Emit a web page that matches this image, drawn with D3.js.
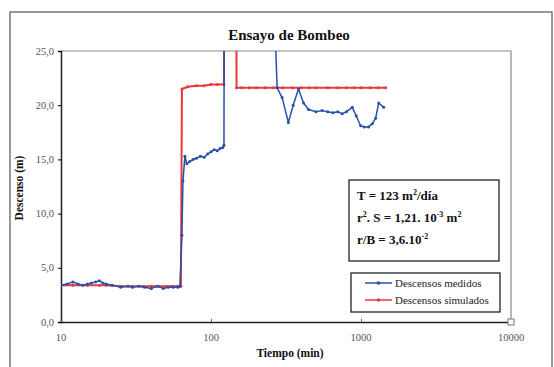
<!DOCTYPE html>
<html>
<head>
<meta charset="utf-8">
<script src="https://cdn.jsdelivr.net/npm/d3@7"></script>
</head>
<body style="margin:0">
<svg id="chart" width="554" height="367"></svg>
<script>
// Pumping test: measured vs simulated drawdown (log time axis)
const measuredTime = [10, 11, 12, 13, 14, 15, 16, 17, 18, 19, 20, 22, 25, 28, 30, 33, 36, 40, 44, 48, 52, 56, 60, 62,
  64, 65, 67, 69, 72, 76, 80, 85, 90, 95, 100, 105, 110, 115, 120, 122, 123,
  268, 269, 276, 298, 328, 353, 383, 414, 447, 500, 550, 600, 650, 700, 750, 800, 875,
  930, 994, 1050, 1124, 1190, 1252, 1312, 1417];
const measuredDrawdown = [3.4, 3.5, 3.7, 3.5, 3.4, 3.5, 3.6, 3.7, 3.8, 3.6, 3.5, 3.4, 3.2, 3.3, 3.2, 3.3, 3.2, 3.1, 3.3, 3.1, 3.2, 3.2, 3.2, 3.3,
  8.0, 13.0, 15.3, 14.6, 14.8, 15.0, 15.1, 15.3, 15.2, 15.5, 15.7, 15.9, 15.8, 16.0, 16.1, 16.3, 40,
  40, 26.0, 21.6, 20.7, 18.4, 20.0, 21.5, 20.2, 19.6, 19.4, 19.5, 19.4, 19.3, 19.4, 19.2, 19.4, 19.8,
  19.0, 18.1, 18.0, 18.0, 18.3, 18.8, 20.2, 19.8];

const simulatedTime = [10, 12, 15, 18, 20, 25, 30, 35, 40, 45, 50, 55, 60, 63,
  64, 70, 80, 90, 100, 110, 122, 123, 147, 148,
  160, 180, 200, 230, 260, 300, 350, 400, 450, 500, 600, 700, 800, 900, 1000, 1150, 1300, 1460];
const simulatedDrawdown = [3.4, 3.4, 3.4, 3.4, 3.4, 3.3, 3.3, 3.3, 3.3, 3.3, 3.3, 3.3, 3.3, 3.3,
  21.5, 21.7, 21.8, 21.8, 21.9, 21.9, 21.9, 40, 40, 21.6,
  21.6, 21.6, 21.6, 21.6, 21.6, 21.6, 21.6, 21.6, 21.6, 21.6, 21.6, 21.6, 21.6, 21.6, 21.6, 21.6, 21.6, 21.6];

const yTicks = [0, 5, 10, 15, 20, 25];
const xTicks = [10, 100, 1000, 10000];

const seriesNames = ["Descensos medidos", "Descensos simulados"];
const seriesColors = ["#2a4fa8", "#e8383d"];

const FONT = "Liberation Serif";

const svg = d3.select("#chart");
const plot = { left: 61, top: 51, right: 511, bottom: 322 };

// outer chart frame
svg.append("rect").attr("x", 10).attr("y", 12).attr("width", 542).attr("height", 370)
  .attr("fill", "none").attr("stroke", "#555").attr("stroke-width", 1.2);

const x = d3.scaleLog().domain([10, 10000]).range([plot.left, plot.right]);
const y = d3.scaleLinear().domain([0, 25]).range([plot.bottom, plot.top]);

// plot-area border (top and right)
svg.append("path")
  .attr("d", `M${plot.left},${plot.top}H${plot.right}V${plot.bottom}`)
  .attr("fill", "none").attr("stroke", "#8a8a8a").attr("stroke-width", 1.2);

// y axis (ticks and domain only; labels are plain texts below)
const yAxis = svg.append("g").attr("transform", `translate(${plot.left},0)`)
  .call(d3.axisLeft(y).tickValues(yTicks).tickSize(3).tickFormat(""));
yAxis.select(".domain").attr("stroke", "#222").attr("stroke-width", 1.5);
svg.selectAll(null).data(yTicks).enter().append("text")
  .attr("x", plot.left - 7).attr("y", d => y(d) + 3.5)
  .attr("text-anchor", "end").attr("font-family", FONT)
  .attr("font-size", 10.5).attr("fill", "#555")
  .text(d => d3.format(".1f")(d).replace(".", ","));

// x axis
const xAxis = svg.append("g").attr("transform", `translate(0,${plot.bottom})`)
  .call(d3.axisBottom(x).tickValues(xTicks).tickSize(-3).tickFormat(""));
xAxis.select(".domain").attr("stroke", "#222").attr("stroke-width", 1.5);
xAxis.selectAll(".tick line").attr("stroke", "#666");
svg.selectAll(null).data(xTicks).enter().append("text")
  .attr("x", d => x(d)).attr("y", plot.bottom + 19)
  .attr("text-anchor", "middle").attr("font-family", FONT)
  .attr("font-size", 10.5).attr("fill", "#555")
  .text(d3.format("d"));

// small end marker at the far corner of the axis
svg.append("rect").attr("x", x(10000) - 3).attr("y", plot.bottom - 3)
  .attr("width", 6).attr("height", 6).attr("fill", "#fff").attr("stroke", "#777");

// clip for series going off-scale
svg.append("clipPath").attr("id", "plotClip").append("rect")
  .attr("x", plot.left).attr("y", plot.top)
  .attr("width", plot.right - plot.left).attr("height", plot.bottom - plot.top);

const line = d3.line().x(d => x(d[0])).y(d => y(d[1]));
const seriesData = [
  d3.zip(measuredTime, measuredDrawdown),
  d3.zip(simulatedTime, simulatedDrawdown)
];
const g = svg.append("g").attr("clip-path", "url(#plotClip)");

// simulated first, measured on top
[1, 0].forEach(i => {
  g.append("path").datum(seriesData[i])
    .attr("fill", "none").attr("stroke", seriesColors[i])
    .attr("stroke-width", i === 1 ? 2 : 1.5)
    .attr("stroke-linejoin", "round")
    .attr("d", line);
  g.selectAll(null).data(seriesData[i].filter(d => d[1] <= 25)).enter()
    .append("circle")
    .attr("cx", d => x(d[0])).attr("cy", d => y(d[1]))
    .attr("r", 1.5).attr("fill", seriesColors[i]);
});

// title and axis titles
svg.append("text").attr("x", 289).attr("y", 40).attr("text-anchor", "middle")
  .attr("font-family", FONT)
  .attr("font-size", 15).attr("font-weight", "bold").attr("fill", "#111")
  .text("Ensayo de Bombeo");
svg.append("text").attr("x", 290).attr("y", 357).attr("text-anchor", "middle")
  .attr("font-family", FONT)
  .attr("font-size", 11.5).attr("font-weight", "bold").attr("fill", "#111")
  .text("Tiempo (min)");
svg.append("text").attr("transform", "translate(23,188) rotate(-90)")
  .attr("text-anchor", "middle").attr("font-family", FONT)
  .attr("font-size", 11.5).attr("font-weight", "bold").attr("fill", "#111")
  .text("Descenso (m)");

// parameter box
svg.append("rect").attr("x", 349).attr("y", 180).attr("width", 150).attr("height", 81)
  .attr("fill", "#fff").attr("stroke", "#222").attr("stroke-width", 1.3);
function paramLine(yPos, parts) {
  const t = svg.append("text").attr("x", 357).attr("y", yPos).attr("font-family", FONT)
    .attr("font-size", 13).attr("font-weight", "bold").attr("fill", "#111");
  parts.forEach(([txt, sup]) => {
    t.append("tspan").attr("font-family", FONT)
      .attr("dy", sup === 1 ? -5 : sup === -1 ? 5 : 0)
      .attr("font-size", sup === 1 ? 8 : 13).text(txt);
  });
}
paramLine(200, [["T = 123 m", 0], ["2", 1], ["/día", -1]]);
paramLine(222, [["r", 0], ["2", 1], [". S = 1,21. 10", -1], ["-3", 1], [" m", -1], ["2", 1]]);
paramLine(244, [["r/B = 3,6.10", 0], ["-2", 1]]);

// legend
svg.append("rect").attr("x", 351).attr("y", 273).attr("width", 149).attr("height", 39)
  .attr("fill", "#fff").attr("stroke", "#222").attr("stroke-width", 1.3);
seriesNames.forEach((name, i) => {
  const ly = 283 + i * 17;
  svg.append("line").attr("x1", 365).attr("x2", 392).attr("y1", ly).attr("y2", ly)
    .attr("stroke", seriesColors[i]).attr("stroke-width", 1.5);
  svg.append("circle").attr("cx", 378.5).attr("cy", ly).attr("r", 1.8).attr("fill", seriesColors[i]);
  svg.append("text").attr("x", 395).attr("y", ly + 3.5).attr("font-family", FONT)
    .attr("font-size", 11).attr("fill", "#222").text(name);
});
</script>
</body>
</html>
